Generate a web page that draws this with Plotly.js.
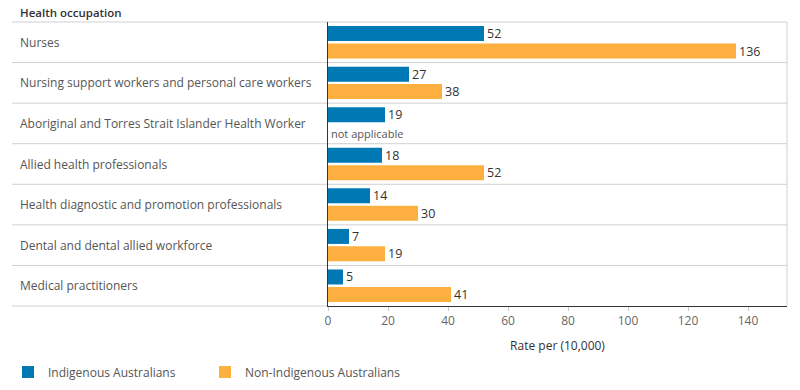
<!DOCTYPE html>
<html>
<head>
<meta charset="utf-8">
<script src="https://cdn.plot.ly/plotly-3.0.1.min.js"></script>
<style>html,body{margin:0;padding:0;background:#fff}#chart{width:800px;height:390px}</style>
</head>
<body>
<div id="chart"></div>
<script>
const categories = [
  'Nurses',
  'Nursing support workers and personal care workers',
  'Aboriginal and Torres Strait Islander Health Worker',
  'Allied health professionals',
  'Health diagnostic and promotion professionals',
  'Dental and dental allied workforce',
  'Medical practitioners'
];
const indigenous = [52, 27, 19, 18, 14, 7, 5];
const nonIndigenous = [136, 38, null, 52, 30, 19, 41];
const seriesNames = ['Indigenous Australians', 'Non-Indigenous Australians'];
const xTicks = [0, 20, 40, 60, 80, 100, 120, 140];
const naText = 'not applicable';

const FONT = '"Open Sans", sans-serif';
const W = 800, H = 390;
const M = {l: 328, r: 13, t: 21.5, b: 84, autoexpand: false};
const plotW = W - M.l - M.r;
const labelX = (18 - M.l) / plotW;
const lineX0 = (12 - M.l) / plotW;
const n = categories.length;

const traces = [
  {type: 'bar', orientation: 'h', name: seriesNames[0], y: categories, x: indigenous,
   marker: {color: '#0078b4'}, text: indigenous.map(v => v == null ? '' : String(v)),
   textposition: 'outside', cliponaxis: false, constraintext: 'none',
   textfont: {family: FONT, size: 12.5, color: '#333'}, hoverinfo: 'x+y'},
  {type: 'bar', orientation: 'h', name: seriesNames[1], y: categories, x: nonIndigenous,
   marker: {color: '#fdb03f'}, text: nonIndigenous.map(v => v == null ? '' : String(v)),
   textposition: 'outside', cliponaxis: false, constraintext: 'none',
   textfont: {family: FONT, size: 12.5, color: '#333'}, hoverinfo: 'x+y'}
];

const annotations = categories.map(c => ({
  xref: 'paper', yref: 'y', x: labelX, y: c, xanchor: 'left', yanchor: 'middle',
  text: c, showarrow: false, font: {family: FONT, size: 12, color: '#555'}
}));
annotations.push({
  xref: 'paper', yref: 'paper', x: labelX, y: 1, xanchor: 'left', yanchor: 'bottom', yshift: 0,
  text: 'Health occupation', showarrow: false, font: {family: FONT, size: 11.5, color: '#333', weight: 600}
});
categories.forEach((c, i) => {
  if (nonIndigenous[i] == null) {
    annotations.push({xref: 'x', yref: 'y', x: 0, y: c, xanchor: 'left', yanchor: 'middle',
      xshift: 1, yshift: -10, text: naText, showarrow: false,
      font: {family: FONT, size: 11, color: '#555'}});
  }
});

const shapes = [];
for (let i = 0; i <= n; i++) {
  const yp = 1 - i / n;
  shapes.push({type: 'line', xref: 'paper', yref: 'paper', x0: lineX0, x1: (i === n ? 0 : 1), y0: yp, y1: yp,
    line: {color: '#d0d0d0', width: 1}, layer: 'below'});
}
shapes.push({type: 'line', xref: 'paper', yref: 'paper', x0: 1, x1: 1, y0: 0, y1: 1,
  line: {color: '#d0d0d0', width: 1}, layer: 'below'});

const layout = {
  width: W, height: H,
  margin: M,
  paper_bgcolor: '#fff', plot_bgcolor: '#fff',
  font: {family: FONT, size: 12, color: '#555'},
  barmode: 'group', bargap: 0.14, bargroupgap: 0.14,
  showlegend: true,
  legend: {orientation: 'h', x: (8 - M.l) / plotW, xanchor: 'left', y: -0.232, yanchor: 'middle',
    font: {family: FONT, size: 12, color: '#555'}, entrywidth: 152, entrywidthmode: 'pixels',
    traceorder: 'normal'},
  xaxis: {range: [0, 153], tickvals: xTicks, ticktext: xTicks.map(String), ticks: 'outside', ticklen: 4,
    tickcolor: '#ccc', showgrid: false, zeroline: false, showline: true, linecolor: '#333', linewidth: 1,
    tickfont: {family: FONT, size: 12, color: '#666'}, automargin: false,
    title: {text: 'Rate per (10,000)', font: {family: FONT, size: 12, color: '#333'}, standoff: 13}},
  yaxis: {type: 'category', range: [n - 0.5, -0.5], showticklabels: false, ticks: '', showgrid: false,
    zeroline: false, showline: true, linecolor: '#333', linewidth: 1, automargin: false},
  annotations: annotations,
  shapes: shapes
};

Plotly.newPlot('chart', traces, layout, {displayModeBar: false, staticPlot: true});
</script>
</body>
</html>
